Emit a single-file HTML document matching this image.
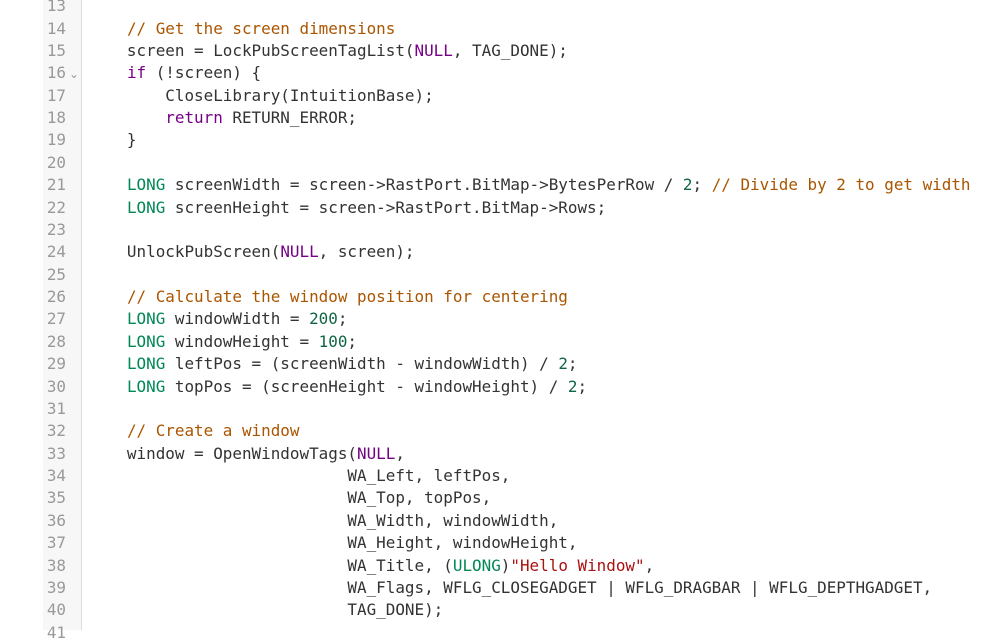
<!DOCTYPE html>
<html><head><meta charset="utf-8"><style>
body{margin:0;width:996px;height:630px;overflow:hidden;background:#fff;position:relative}
.g{position:absolute;left:43px;top:0;width:38px;height:630px;background:#f7f7f7;border-right:1px solid #ddd}
.n,.t{position:absolute;top:-4.8px;font-family:"DejaVu Sans Mono","Liberation Mono",monospace;font-size:15.93px;line-height:22.38px;white-space:pre;color:#333}
.n{left:43px;width:23px;text-align:right;color:#999}
.t{left:88.6px}
.cm{color:#a50}.k{color:#708}.ty{color:#085}.nu{color:#164}.s{color:#a11}
.f{position:absolute;left:69px;top:67px;color:#999;font-size:12px;font-family:"DejaVu Sans",sans-serif}
</style></head><body>
<div class="g"></div>
<div class="f">⌄</div>
<div class="n">13<br>14<br>15<br>16<br>17<br>18<br>19<br>20<br>21<br>22<br>23<br>24<br>25<br>26<br>27<br>28<br>29<br>30<br>31<br>32<br>33<br>34<br>35<br>36<br>37<br>38<br>39<br>40<br>41</div>
<div class="t"> 
    <span class="cm">// Get the screen dimensions</span>
    screen = LockPubScreenTagList(<span class="k">NULL</span>, TAG_DONE);
    <span class="k">if</span> (!screen) {
        CloseLibrary(IntuitionBase);
        <span class="k">return</span> RETURN_ERROR;
    }

    <span class="ty">LONG</span> screenWidth = screen-&gt;RastPort.BitMap-&gt;BytesPerRow / <span class="nu">2</span>; <span class="cm">// Divide by 2 to get width</span>
    <span class="ty">LONG</span> screenHeight = screen-&gt;RastPort.BitMap-&gt;Rows;

    UnlockPubScreen(<span class="k">NULL</span>, screen);

    <span class="cm">// Calculate the window position for centering</span>
    <span class="ty">LONG</span> windowWidth = <span class="nu">200</span>;
    <span class="ty">LONG</span> windowHeight = <span class="nu">100</span>;
    <span class="ty">LONG</span> leftPos = (screenWidth - windowWidth) / <span class="nu">2</span>;
    <span class="ty">LONG</span> topPos = (screenHeight - windowHeight) / <span class="nu">2</span>;

    <span class="cm">// Create a window</span>
    window = OpenWindowTags(<span class="k">NULL</span>,
                           WA_Left, leftPos,
                           WA_Top, topPos,
                           WA_Width, windowWidth,
                           WA_Height, windowHeight,
                           WA_Title, (<span class="ty">ULONG</span>)<span class="s">"Hello Window"</span>,
                           WA_Flags, WFLG_CLOSEGADGET | WFLG_DRAGBAR | WFLG_DEPTHGADGET,
                           TAG_DONE);</div>
</body></html>
